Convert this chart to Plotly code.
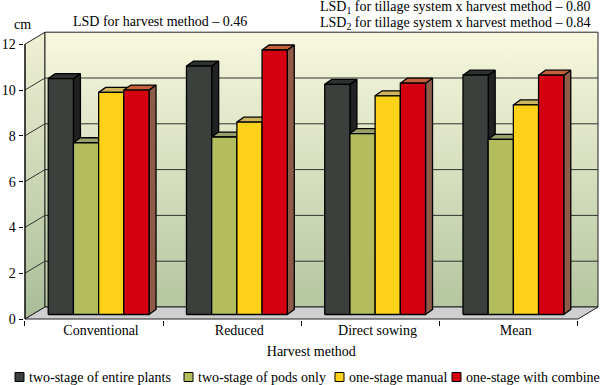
import plotly.graph_objects as go

# ---------------- data ----------------
categories = ["Conventional", "Reduced", "Direct sowing", "Mean"]
series_names = ["two-stage of entire plants", "two-stage of pods only",
                "one-stage manual", "one-stage with combine"]
entire_plants = [10.3, 10.85, 10.05, 10.45]
pods_only = [7.5, 7.75, 7.9, 7.65]
manual = [9.7, 8.4, 9.55, 9.15]
combine = [9.8, 11.55, 10.1, 10.45]
y_ticks = [0, 2, 4, 6, 8, 10, 12]

series_values = [entire_plants, pods_only, manual, combine]
front_colors = ["#3b403d", "#b3bd5e", "#fdd219", "#d5000f"]
side_colors = ["#202221", "#8e9650", "#c9a818", "#8f5a48"]
top_colors = ["#2e312f", "#9aa06c", "#cdb55c", "#c4603c"]

# ---------------- geometry (pixels -> data units) ----------------
W, H = 600, 385
PX_CAT = 138.25          # px per category
PX_Y = 22.9              # px per y unit
X_LEFT_PX = 25.0         # x = -0.5
Y_ZERO_PX = 319.0        # y = 0

xr0, xr1 = -0.51, 3.5 + 21 / PX_CAT
yr0, yr1 = -0.04, 12.6
x0px = X_LEFT_PX + (xr0 + 0.5) * PX_CAT
x1px = X_LEFT_PX + (xr1 + 0.5) * PX_CAT
y0px = Y_ZERO_PX - yr0 * PX_Y
y1px = Y_ZERO_PX - yr1 * PX_Y

dxw, dyw = 20 / PX_CAT, 12 / PX_Y        # wall depth
bx_shift, b_base = 4.5 / PX_CAT, 4.5 / PX_Y  # bar placement in floor depth
bw = 25.2 / PX_CAT                       # bar width
dx, dy = 7 / PX_CAT, 5 / PX_Y            # bar depth
font = "Liberation Serif"
FS = 14

fig = go.Figure()

# left wall
fig.add_trace(go.Scatter(
    x=[-0.5, -0.5 + dxw, -0.5 + dxw, -0.5, -0.5],
    y=[0, dyw, 12 + dyw, 12, 0], mode="lines", fill="toself",
    fillgradient=dict(type="vertical", colorscale=[[0, "#a9bd98"], [1, "#f0f0d4"]]),
    line=dict(color="#222", width=1), showlegend=False, hoverinfo="skip"))
# back wall
fig.add_trace(go.Scatter(
    x=[-0.5 + dxw, 3.5 + dxw, 3.5 + dxw, -0.5 + dxw, -0.5 + dxw],
    y=[dyw, dyw, 12 + dyw, 12 + dyw, dyw], mode="lines", fill="toself",
    fillgradient=dict(type="vertical", colorscale=[[0, "#b5c6a0"], [1, "#f8f8de"]]),
    line=dict(color="#222", width=1), showlegend=False, hoverinfo="skip"))
# floor
fig.add_trace(go.Scatter(
    x=[-0.5, 3.5, 3.5 + dxw, -0.5 + dxw, -0.5],
    y=[0, 0, dyw, dyw, 0], mode="lines", fill="toself", fillcolor="#cfcfcf",
    line=dict(color="#222", width=1), showlegend=False, hoverinfo="skip"))
# grid lines on walls
gx, gy = [], []
for v in y_ticks[1:-1]:
    gx += [-0.5, -0.5 + dxw, 3.5 + dxw, None]
    gy += [v, v + dyw, v + dyw, None]
fig.add_trace(go.Scatter(x=gx, y=gy, mode="lines",
                         line=dict(color="#333", width=1),
                         showlegend=False, hoverinfo="skip"))
# front vertical axis line
fig.add_trace(go.Scatter(x=[-0.5, -0.5], y=[0, 12], mode="lines",
                         line=dict(color="#000", width=1),
                         showlegend=False, hoverinfo="skip"))

# bars (side, top, front per series)
n = len(series_values)
for k, vals in enumerate(series_values):
    sx, sy, tx, ty, fx, fy = [], [], [], [], [], []
    for c, v in enumerate(vals):
        xl = c + bx_shift - n * bw / 2 + k * bw
        xr = xl + bw
        top = v + b_base
        sx += [xr, xr + dx, xr + dx, xr, xr, None]
        sy += [b_base, b_base + dy, top + dy, top, b_base, None]
        tx += [xl, xr, xr + dx, xl + dx, xl, None]
        ty += [top, top, top + dy, top + dy, top, None]
        fx += [xl, xr, xr, xl, xl, None]
        fy += [b_base, b_base, top, top, b_base, None]
    for px_, py_, col in ((sx, sy, side_colors[k]), (tx, ty, top_colors[k])):
        fig.add_trace(go.Scatter(x=px_, y=py_, mode="lines", fill="toself",
                                 fillcolor=col, line=dict(color="#000", width=1.3),
                                 showlegend=False, hoverinfo="skip"))
    fig.add_trace(go.Scatter(x=fx, y=fy, mode="lines", fill="toself",
                             fillcolor=front_colors[k],
                             line=dict(color="#000", width=1.3),
                             name=series_names[k], showlegend=False))

# dummy trace to activate xaxis2 (category boundary ticks)
fig.add_trace(go.Scatter(x=[None], y=[None], xaxis="x2", yaxis="y",
                         showlegend=False, hoverinfo="skip"))

# custom one-row legend (swatch + label)
legend_swatch_x = [15, 184, 335, 452]
legend_y = 377
shapes, annotations = [], []
for k in range(n):
    x0 = legend_swatch_x[k]
    shapes.append(dict(type="rect", xref="paper", yref="paper",
                       x0=x0 / W, x1=(x0 + 9) / W,
                       y0=1 - (legend_y + 4.5) / H, y1=1 - (legend_y - 4.5) / H,
                       fillcolor=front_colors[k], line=dict(color="#000", width=1)))
    annotations.append(dict(text=series_names[k], x=(x0 + 12) / W, y=1 - legend_y / H,
                            xref="paper", yref="paper", xanchor="left",
                            yanchor="middle", showarrow=False, font=dict(size=FS)))

annotations += [
    dict(text="cm", x=22 / W, y=1 - 24 / H),
    dict(text="LSD for harvest method – 0.46", x=160 / W, y=1 - 21 / H),
    dict(text="LSD<sub>1</sub> for tillage system x harvest method – 0.80",
         x=455 / W, y=1 - 7 / H),
    dict(text="LSD<sub>2</sub> for tillage system x harvest method – 0.84",
         x=455 / W, y=1 - 23 / H),
]
for a in annotations[-4:]:
    a.update(xref="paper", yref="paper", xanchor="center", yanchor="middle",
             showarrow=False, font=dict(size=FS))

fig.update_layout(
    width=W, height=H, margin=dict(l=0, r=0, t=0, b=0, autoexpand=False),
    paper_bgcolor="white", plot_bgcolor="rgba(0,0,0,0)",
    font=dict(family=font, size=FS, color="#000"),
    showlegend=False,
    xaxis=dict(domain=[x0px / W, x1px / W], range=[xr0, xr1], automargin=False,
               tickvals=[c + 0.05 for c in range(len(categories))],
               ticktext=categories, ticks="", showgrid=False, zeroline=False,
               showline=False, tickfont=dict(size=FS), fixedrange=True,
               title=dict(text="Harvest method", font=dict(size=FS), standoff=9)),
    xaxis2=dict(domain=[x0px / W, x1px / W], range=[xr0, xr1], overlaying="x",
                automargin=False,
                tickvals=[c - 0.5 for c in range(len(categories) + 1)],
                ticks="outside", ticklen=5, tickcolor="#000", showticklabels=False,
                showgrid=False, zeroline=False, showline=False, anchor="y"),
    yaxis=dict(domain=[(H - y0px) / H, (H - y1px) / H], range=[yr0, yr1],
               automargin=False,
               tickvals=y_ticks, ticks="outside", ticklen=4, tickcolor="#000",
               showgrid=False, zeroline=False, showline=False,
               tickfont=dict(size=FS), fixedrange=True),
    shapes=shapes,
    annotations=annotations,
)

fig.write_html("out.html", config={"displayModeBar": False},
               post_script="document.body.style.margin='0px';"
                           "document.body.style.overflow='hidden';")
